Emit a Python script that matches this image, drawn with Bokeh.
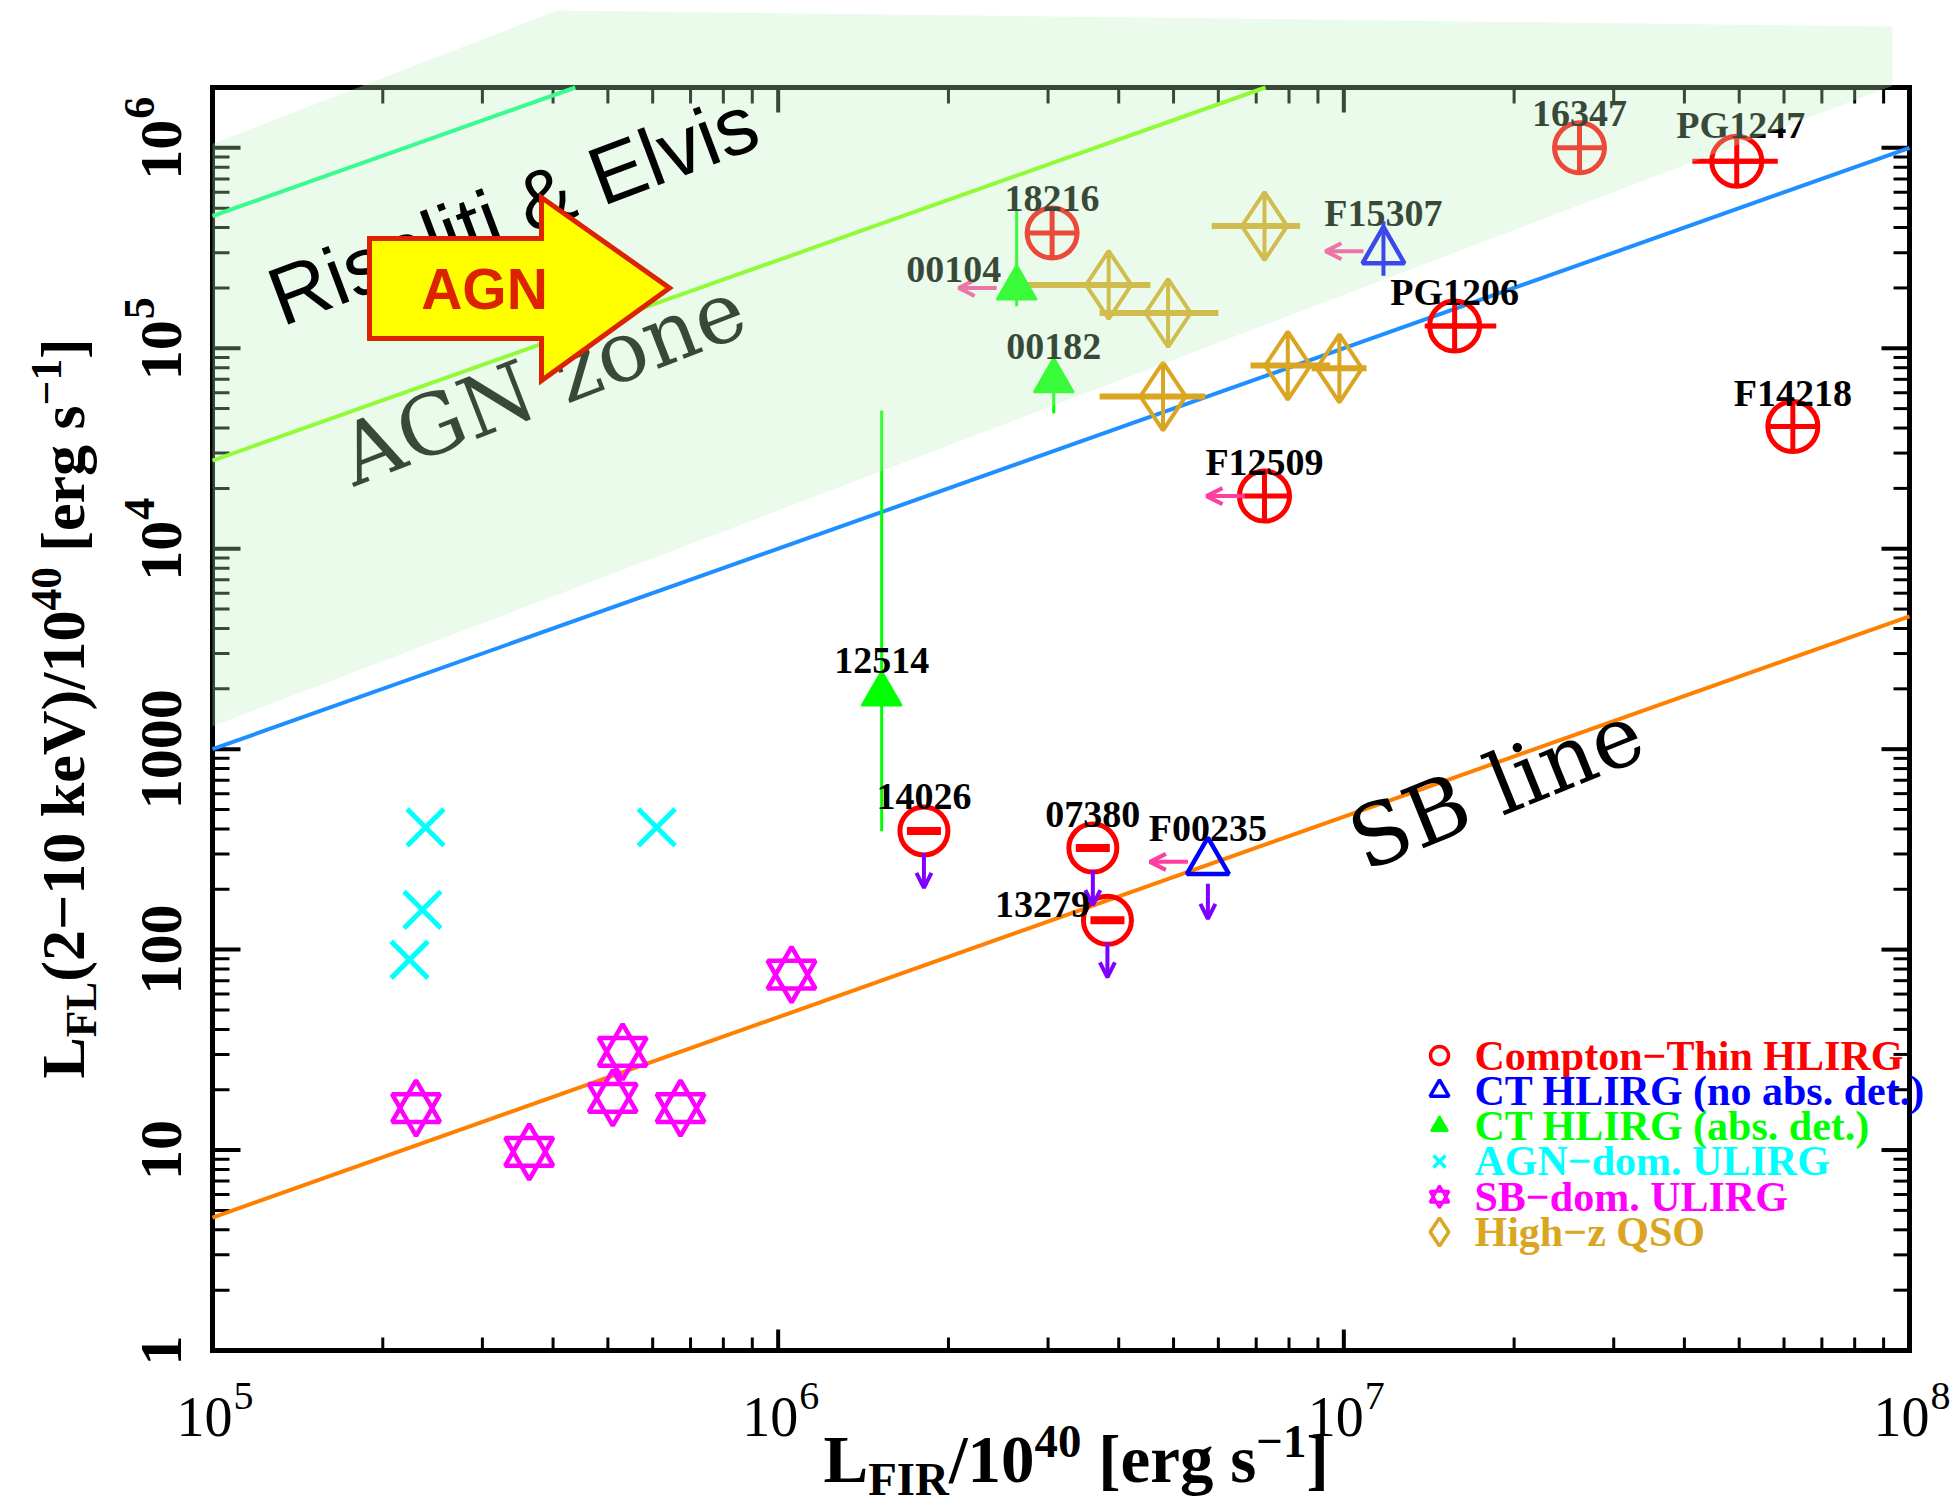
import math
from bokeh.plotting import figure
from bokeh.models import (Range1d, ColumnDataSource, LabelSet, Label,
                          PolyAnnotation, Arrow, OpenHead)
from bokeh.core.properties import value
from bokeh.embed import file_html
from bokeh.resources import INLINE

# ------------------------------------------------------------------ data
# Compton-thin HLIRGs (red circles)
thin_names = ["16347", "PG1247", "18216", "PG1206", "F14218", "F12509", "14026", "07380", "13279"]
thin_x = [2.61e7, 4.95e7, 3.05e6, 1.57e7, 6.22e7, 7.24e6, 1.81e6, 3.60e6, 3.82e6]
thin_y = [1.0e6, 8.57e5, 3.76e5, 1.29e5, 4.07e4, 1.83e4, 391, 321, 140]
thin_x_lo = [2.61e7, 4.13e7, 3.05e6, 1.39e7, 6.22e7, 7.24e6, 1.81e6, 3.60e6, 3.82e6]
thin_x_hi = [2.61e7, 5.85e7, 3.05e6, 1.86e7, 6.22e7, 7.24e6, 1.81e6, 3.60e6, 3.82e6]
thin_x_upper = [False, False, False, False, False, True, False, False, False]
thin_y_upper = [False, False, False, False, False, False, True, True, True]

# Compton-thick HLIRGs, no absorption detected (blue open triangles)
ctn_names = ["F15307", "F00235"]
ctn_x = [1.175e7, 5.75e6]
ctn_y = [3.05e5, 274]
ctn_y_lo = [2.3e5, 274]
ctn_y_hi = [4.3e5, 274]
ctn_x_upper = [True, True]
ctn_y_upper = [False, True]

# Compton-thick HLIRGs, absorption detected (green filled triangles)
cta_names = ["00104", "00182", "12514"]
cta_x = [2.64e6, 3.07e6, 1.524e6]
cta_y = [2.0e5, 6.9e4, 1884]
cta_y_lo = [1.62e5, 4.73e4, 389]
cta_y_hi = [4.84e5, 8.6e4, 4.9e4]
cta_x_upper = [True, False, False]

# AGN-dominated ULIRGs (cyan crosses)
agn_ulirg_x = [2.38e5, 6.1e5, 2.35e5, 2.23e5]
agn_ulirg_y = [407, 407, 158, 89]

# SB-dominated ULIRGs (magenta stars)
sb_ulirg_x = [2.29e5, 3.63e5, 5.1e5, 5.31e5, 6.72e5, 1.056e6]
sb_ulirg_y = [16.2, 9.8, 18.2, 30.9, 16.2, 75]

# High-z QSOs (gold diamonds)
qso_x = [7.24e6, 3.84e6, 4.89e6, 4.79e6, 7.96e6, 9.82e6]
qso_y = [4.07e5, 2.07e5, 1.5e5, 5.75e4, 8.2e4, 7.94e4]
qso_x_lo = [5.84e6, 2.73e6, 3.7e6, 3.7e6, 6.84e6, 8.77e6]
qso_x_hi = [8.37e6, 4.55e6, 6.0e6, 5.69e6, 9.46e6, 1.097e7]

# reference lines (end points inside the plot box)
sb_line_x = [1e5, 1e8]
sb_line_y = [4.6, 4600]
agn_line_x = [1e5, 1e8]
agn_line_y = [1e3, 1e6]
re_low_x = [1e5, 7.27e6]
re_low_y = [2.75e4, 2e6]
re_high_x = [1e5, 4.38e5]
re_high_y = [4.57e5, 2e6]

# shaded "AGN zone" (Risaliti & Elvis)
zone_x = [1e5, 4.06e5, 9.33e7, 9.33e7, 1e5]
zone_y = [1.047e6, 4.84e6, 4.03e6, 2.04e6, 1303]

# legend
legend_labels = ["Compton\u2212Thin HLIRG", "CT HLIRG (no abs. det.)", "CT HLIRG (abs. det.)",
                 "AGN\u2212dom. ULIRG", "SB\u2212dom. ULIRG", "High\u2212z QSO"]

# axes
x_lim = [1e5, 1e8]
y_lim = [1.0, 2e6]
x_tick_values = [1e5, 1e6, 1e7, 1e8]
x_tick_exps = ["5", "6", "7", "8"]
y_plain_values = [1, 10, 100, 1000]
y_plain_labels = ["1", "10", "100", "1000"]
y_pow_values = [1e4, 1e5, 1e6]
y_pow_exps = ["4", "5", "6"]

# ------------------------------------------------------------------ style / geometry
RED, BLUE, GREEN, CYAN, MAGENTA, GOLD = "#ff0000", "#0000ff", "#00ff00", "#00ffff", "#ff00ff", "#daa520"
PURPLE, PINK = "#8000ff", "#ff3fa0"
SERIF, SANS, DSERIF = "Liberation Serif", "Liberation Sans", "DejaVu Serif"

W, H = 1955, 1505                      # canvas
BOX_L, BOX_R, BOX_T, BOX_B = 212, 1909, 87, 1350   # plot box in canvas pixels
X0, X1 = x_lim
Y0, Y1 = y_lim
XDEC = (BOX_R - BOX_L) / math.log10(X1 / X0)
YDEC = (BOX_B - BOX_T) / math.log10(Y1 / Y0)


def dx(px):
    return X0 * 10 ** ((px - BOX_L) / XDEC)


def dy(py):
    return Y0 * 10 ** ((BOX_B - py) / YDEC)


def rot_center(px, py, deg, size):
    """text-middle anchor for a rotated text whose baseline starts at (px, py)"""
    t = math.radians(deg)
    d = 0.33 * size
    return dx(px - d * math.sin(t)), dy(py - d * math.cos(t))


p = figure(x_axis_type="log", y_axis_type="log",
           x_range=Range1d(dx(0), dx(W)), y_range=Range1d(dy(H), dy(0)),
           frame_width=W, frame_height=H,
           min_border_left=0, min_border_right=0, min_border_top=0, min_border_bottom=0,
           x_axis_location=None, y_axis_location=None,
           output_backend="svg", toolbar_location=None,
           background_fill_color="white", border_fill_color="white")
p.grid.visible = False
p.outline_line_color = None

# ------------------------------------------------------------------ plot box and ticks
x_minor = [m * 10 ** k for k in range(5, 8) for m in range(2, 10)]
y_major = [10 ** k for k in range(0, 7)]
y_minor = [m * 10 ** k for k in range(0, 7) for m in range(2, 10) if m * 10 ** k < Y1]


def xticks(vals, edge, length, sign, lw):
    n = len(vals)
    p.segment(x0=vals, x1=vals, y0=[edge] * n, y1=[edge * 10 ** (sign * length / YDEC)] * n,
              line_color="black", line_width=lw)


def yticks(vals, edge, length, sign, lw):
    n = len(vals)
    p.segment(y0=vals, y1=vals, x0=[edge] * n, x1=[edge * 10 ** (sign * length / XDEC)] * n,
              line_color="black", line_width=lw)


xticks(x_tick_values, Y0, 21, 1, 4)
xticks(x_minor, Y0, 13, 1, 3)
xticks(x_tick_values, Y1, 25, -1, 4)
xticks(x_minor, Y1, 16, -1, 3)
yticks(y_major, X0, 28, 1, 4)
yticks(y_minor, X0, 17, 1, 3)
yticks(y_major, X1, 28, -1, 4)
yticks(y_minor, X1, 16, -1, 3)
p.quad(left=[X0], right=[X1], bottom=[Y0], top=[Y1], fill_alpha=0,
       line_color="black", line_width=5, line_join="miter")

# ------------------------------------------------------------------ lines
p.line(re_high_x, re_high_y, line_color="#00ff7f", line_width=4)
p.line(re_low_x, re_low_y, line_color="#7fff00", line_width=4)
p.line(agn_line_x, agn_line_y, line_color="#1e8fff", line_width=4)
p.line(sb_line_x, sb_line_y, line_color="#ff8000", line_width=4)

# ------------------------------------------------------------------ error bars
p.segment(x0=qso_x_lo, y0=qso_y, x1=qso_x_hi, y1=qso_y, line_color=GOLD, line_width=6)
ex = [(a, b, y) for a, b, y in zip(thin_x_lo, thin_x_hi, thin_y) if a != b]
p.segment(x0=[e[0] for e in ex], y0=[e[2] for e in ex], x1=[e[1] for e in ex], y1=[e[2] for e in ex],
          line_color=RED, line_width=5)
p.segment(x0=cta_x, y0=cta_y_lo, x1=cta_x, y1=cta_y_hi, line_color=GREEN, line_width=3)
ey = [(x, a, b) for x, a, b in zip(ctn_x, ctn_y_lo, ctn_y_hi) if a != b]
p.segment(x0=[e[0] for e in ey], y0=[e[1] for e in ey], x1=[e[0] for e in ey], y1=[e[2] for e in ey],
          line_color=BLUE, line_width=4)

# ------------------------------------------------------------------ markers
p.scatter(sb_ulirg_x, sb_ulirg_y, marker="triangle", size=48, fill_alpha=0, line_color=MAGENTA, line_width=4.5)
p.scatter(sb_ulirg_x, sb_ulirg_y, marker="inverted_triangle", size=48, fill_alpha=0, line_color=MAGENTA, line_width=4.5)
p.scatter(agn_ulirg_x, agn_ulirg_y, marker="x", size=52, line_color=CYAN, line_width=5)
p.scatter(qso_x, qso_y, marker="diamond_cross", size=68, fill_alpha=0, line_color=GOLD, line_width=4)
p.scatter(cta_x, cta_y, marker="triangle", size=40, fill_color=GREEN, line_color=GREEN, line_width=2)
p.scatter(ctn_x, ctn_y, marker="triangle", size=42, fill_alpha=0, line_color=BLUE, line_width=4.5)
det_x = [x for x, u in zip(thin_x, thin_y_upper) if not u]
det_y = [y for y, u in zip(thin_y, thin_y_upper) if not u]
ul_x = [x for x, u in zip(thin_x, thin_y_upper) if u]
ul_y = [y for y, u in zip(thin_y, thin_y_upper) if u]
p.scatter(det_x, det_y, marker="circle_cross", size=50, fill_alpha=0, line_color=RED, line_width=5)
p.scatter(ul_x, ul_y, marker="circle", size=48, fill_alpha=0, line_color=RED, line_width=5)
p.scatter(ul_x, ul_y, marker="dash", size=34, line_color=RED, line_width=8)

# ------------------------------------------------------------------ limit arrows
down_x, down_y = [], []
for xs, ys, flags in [(thin_x, thin_y, thin_y_upper), (ctn_x, ctn_y, ctn_y_upper)]:
    for x, y, f in zip(xs, ys, flags):
        if f:
            down_x.append(x)
            down_y.append(y)
left_x, left_y = [], []
for xs, ys, flags in [(thin_x, thin_y, thin_x_upper), (ctn_x, ctn_y, ctn_x_upper), (cta_x, cta_y, cta_x_upper)]:
    for x, y, f in zip(xs, ys, flags):
        if f:
            left_x.append(x)
            left_y.append(y)

down_src = ColumnDataSource(dict(x0=down_x, x1=down_x,
                                 y0=[y * 10 ** (-22 / YDEC) for y in down_y],
                                 y1=[y * 10 ** (-57 / YDEC) for y in down_y]))
left_src = ColumnDataSource(dict(y0=left_y, y1=left_y,
                                 x0=[x * 10 ** (-20 / XDEC) for x in left_x],
                                 x1=[x * 10 ** (-58 / XDEC) for x in left_x]))
p.add_layout(Arrow(end=OpenHead(size=15, line_color=PURPLE, line_width=4),
                   x_start="x0", y_start="y0", x_end="x1", y_end="y1", source=down_src,
                   line_color=PURPLE, line_width=4))
p.add_layout(Arrow(end=OpenHead(size=16, line_color=PINK, line_width=4),
                   x_start="x0", y_start="y0", x_end="x1", y_end="y1", source=left_src,
                   line_color=PINK, line_width=4))

# ------------------------------------------------------------------ object names
label_offsets = {"00104": (-63, 18), "13279": (-65, 16), "F15307": (0, 38), "PG1247": (4, 36)}
all_names = thin_names + ctn_names + cta_names
all_x = thin_x + ctn_x + cta_x
all_y = thin_y + ctn_y + cta_y
name_src = ColumnDataSource(dict(
    x=all_x, y=all_y, text=all_names,
    xo=[label_offsets.get(n, (0, 34))[0] for n in all_names],
    yo=[label_offsets.get(n, (0, 34))[1] for n in all_names]))
p.add_layout(LabelSet(x="x", y="y", text="text", x_offset="xo", y_offset="yo", source=name_src,
                      text_font=value(SERIF), text_font_style="bold", text_font_size="38px",
                      text_color="black", text_align="center", text_baseline="middle"))

# ------------------------------------------------------------------ in-plot annotations
ax_, ay_ = rot_center(353, 485, 21.2, 84)
p.add_layout(Label(x=ax_, y=ay_, text="AGN zone", angle=math.radians(21.2),
                   text_font=DSERIF, text_font_size="84px",
                   text_color="black", text_align="left", text_baseline="middle"))
sx_, sy_ = rot_center(1364, 870, 22.1, 85)
p.add_layout(Label(x=sx_, y=sy_, text="SB line", angle=math.radians(22.1),
                   text_font=DSERIF, text_font_size="85px",
                   text_color="black", text_align="left", text_baseline="middle"))

# translucent green AGN-zone overlay
p.add_layout(PolyAnnotation(xs=zone_x, ys=zone_y, fill_color="#bcf2bc", fill_alpha=0.3,
                            line_alpha=0))

rx_, ry_ = rot_center(281, 325, 20.6, 82)
p.add_layout(Label(x=rx_, y=ry_, text="Risaliti & Elvis", angle=math.radians(20.6),
                   text_font=SANS, text_font_size="82px", text_color="black",
                   text_align="left", text_baseline="middle"))

arrow_px = [(369, 238), (541, 238), (541, 197), (669, 287.5), (541, 380), (541, 338), (369, 338)]
p.add_layout(PolyAnnotation(xs=[dx(a) for a, b in arrow_px], ys=[dy(b) for a, b in arrow_px],
                            fill_color="#ffff00", fill_alpha=1, line_color="#dd2200",
                            line_alpha=1, line_width=5, line_join="miter"))
p.add_layout(Label(x=dx(484), y=dy(288), text="AGN", text_font=SANS, text_font_style="bold",
                   text_font_size="57px", text_color="#dd2200", text_align="center",
                   text_baseline="middle"))

# ------------------------------------------------------------------ legend
legend_colors = [RED, BLUE, GREEN, CYAN, MAGENTA, GOLD]
row_py = [1055 + 35.3 * i for i in range(6)]
mx = dx(1439)
my = [dy(v) for v in row_py]
p.scatter([mx], [my[0]], marker="circle", size=18, fill_alpha=0, line_color=RED, line_width=3.5)
p.scatter([mx], [my[1]], marker="triangle", size=19, fill_alpha=0, line_color=BLUE, line_width=3.5)
p.scatter([mx], [my[2]], marker="triangle", size=17, fill_color=GREEN, line_color=GREEN, line_width=2)
p.scatter([mx], [my[3]], marker="x", size=17, line_color=CYAN, line_width=3.5)
p.scatter([mx], [my[4]], marker="triangle", size=19, fill_alpha=0, line_color=MAGENTA, line_width=3)
p.scatter([mx], [my[4]], marker="inverted_triangle", size=19, fill_alpha=0, line_color=MAGENTA, line_width=3)
p.scatter([mx], [my[5]], marker="diamond", size=28, fill_alpha=0, line_color=GOLD, line_width=3.5)
leg_src = ColumnDataSource(dict(x=[dx(1474)] * 6, y=my, text=legend_labels, c=legend_colors))
p.add_layout(LabelSet(x="x", y="y", text="text", source=leg_src, text_color="c",
                      text_font=value(SERIF), text_font_style="bold", text_font_size="42px",
                      text_align="left", text_baseline="middle"))

# ------------------------------------------------------------------ tick labels
xt_src = ColumnDataSource(dict(x=x_tick_values, y=[dy(1416)] * 4, text=["10"] * 4))
p.add_layout(LabelSet(x="x", y="y", text="text", source=xt_src, x_offset=20,
                      text_font=value(SERIF), text_font_size="56px", text_color="black",
                      text_align="right", text_baseline="middle"))
xe_src = ColumnDataSource(dict(x=x_tick_values, y=[dy(1395)] * 4, text=x_tick_exps))
p.add_layout(LabelSet(x="x", y="y", text="text", source=xe_src, x_offset=21,
                      text_font=value(SERIF), text_font_size="40px", text_color="black",
                      text_align="left", text_baseline="middle"))

yp_src = ColumnDataSource(dict(x=[dx(161)] * 4, y=y_plain_values, text=y_plain_labels))
p.add_layout(LabelSet(x="x", y="y", text="text", source=yp_src, angle=math.pi / 2,
                      text_font=value(SERIF), text_font_style="bold", text_font_size="60px",
                      text_color="black", text_align="center", text_baseline="middle"))
yq_src = ColumnDataSource(dict(x=[dx(161)] * 3, y=y_pow_values, text=["10"] * 3))
p.add_layout(LabelSet(x="x", y="y", text="text", source=yq_src, angle=math.pi / 2, y_offset=-32,
                      text_font=value(SERIF), text_font_style="bold", text_font_size="60px",
                      text_color="black", text_align="left", text_baseline="middle"))
ye_src = ColumnDataSource(dict(x=[dx(139)] * 3, y=y_pow_values, text=y_pow_exps))
p.add_layout(LabelSet(x="x", y="y", text="text", source=ye_src, angle=math.pi / 2, y_offset=29,
                      text_font=value(SERIF), text_font_style="bold", text_font_size="44px",
                      text_color="black", text_align="left", text_baseline="middle"))

# ------------------------------------------------------------------ axis titles
# advance widths (em) of Liberation Serif Bold (Times-Bold metrics)
ADV = {'L': .667, 'F': .611, 'I': .389, 'R': .722, '/': .278, '0': .5, '1': .5, '2': .5, '4': .5,
       ' ': .25, '[': .333, ']': .333, 'e': .444, 'r': .444, 'g': .5, 's': .389, '\u2212': .570,
       '(': .333, ')': .333, 'k': .556, 'V': .722}


def compose(pieces, start, center, size, vertical):
    pos = start
    for text, kind in pieces:
        fs = size if kind == "n" else size * 0.7
        shift = {"n": 0.0, "sub": 0.30 * size, "sup": -0.26 * size}[kind]
        body = text.lstrip(" ")
        lead = sum(ADV[c] for c in text[:len(text) - len(body)]) * fs
        w = sum(ADV[c] for c in body) * fs
        if vertical:
            pos -= lead
            p.add_layout(Label(x=dx(center + shift), y=dy(pos), text=body, angle=math.pi / 2,
                               text_font=SERIF, text_font_style="bold", text_font_size=f"{fs:.1f}px",
                               text_color="black", text_align="left", text_baseline="middle"))
            pos -= w
        else:
            pos += lead
            p.add_layout(Label(x=dx(pos), y=dy(center + shift), text=body,
                               text_font=SERIF, text_font_style="bold", text_font_size=f"{fs:.1f}px",
                               text_color="black", text_align="left", text_baseline="middle"))
            pos += w


compose([("L", "n"), ("FIR", "sub"), ("/10", "n"), ("40", "sup"), (" [erg s", "n"),
         ("\u22121", "sup"), ("]", "n")], 823, 1458, 67, False)
compose([("L", "n"), ("FL", "sub"), ("(2\u221210 keV)/10", "n"), ("40", "sup"), (" [erg s", "n"),
         ("\u22121", "sup"), ("]", "n")], 1078, 62, 62, True)

open("out.html", "w").write(file_html(p, INLINE))
